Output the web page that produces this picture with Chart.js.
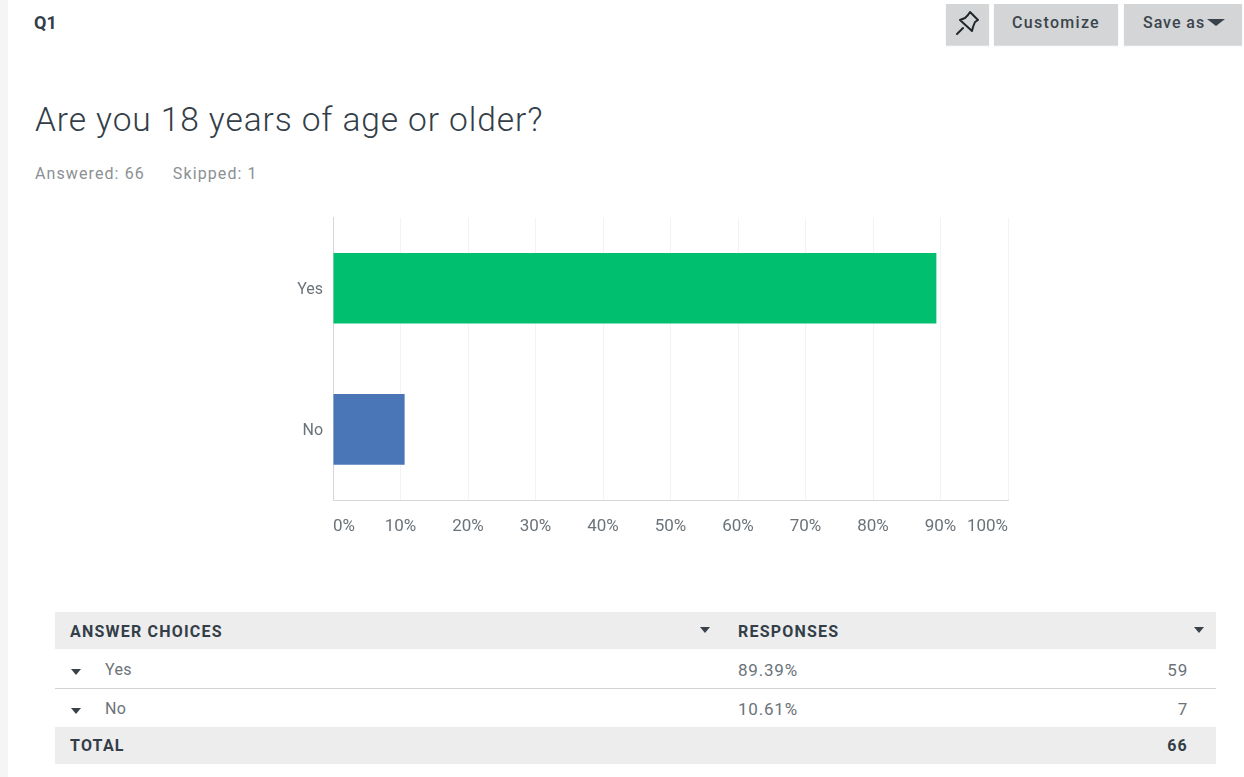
<!DOCTYPE html>
<html>
<head>
<meta charset="utf-8">
<title>Q1</title>
<script src="https://cdn.jsdelivr.net/npm/chart.js@4"></script>
<style>
  html, body { margin: 0; padding: 0; background: #fff; }
  body { width: 1244px; height: 777px; position: relative; overflow: hidden; font-family: Roboto, sans-serif; color: #333e48; }
  .abs { position: absolute; white-space: nowrap; }
  #edge { left: 0; top: 0; width: 8px; height: 777px; background: #f5f5f5; }
  #qnum { left: 34px; top: 12px; font: 700 18px/22px Roboto, sans-serif; color: #333e48; }
  #title { left: 35px; top: 98px; font: 300 33.5px/44px Roboto, sans-serif; color: #333e48; letter-spacing: .91px; }
  #stats { left: 35px; top: 164px; font: 400 16px/20px Roboto, sans-serif; color: #8b9094; letter-spacing: 1.1px; }
  #stats span + span { margin-left: 28px; }
  .btn { top: 4px; height: 41px; background: #d3d5d6; box-shadow: 0 1px 1px #dfe0e1; font: 500 16px/38px Roboto, sans-serif; color: #3c454d; text-align: center; letter-spacing: 1.3px; }
  #pin { left: 946px; width: 43px; }
  #custom { left: 994px; width: 124px; }
  #save { left: 1124px; width: 118px; text-align: left; text-indent: 19px; letter-spacing: .95px; }
  .tri { position: absolute; width: 0; height: 0; border-left: 5px solid transparent; border-right: 5px solid transparent; border-top: 6px solid #39424a; }
  #save .tri { left: 83px; top: 15px; border-left-width: 9px; border-right-width: 9px; border-top-width: 7px; }
  #chartBox { left: 270px; top: 198px; width: 760px; height: 347px; }
  .band { left: 55px; width: 1161px; background: #ededed; }
  .cell { font: 400 16px/20px Roboto, sans-serif; color: #6b7379; letter-spacing: .3px; }
  .num { font: 400 17px/20px Roboto, sans-serif; color: #6b7379; letter-spacing: .8px; }
  .head { font: 700 16px/20px Roboto, sans-serif; color: #333e48; letter-spacing: 1.2px; }
  #rule { left: 55px; top: 688px; width: 1161px; height: 1px; background: #d0d2d3; }
</style>
</head>
<body>
<div class="abs" id="edge"></div>
<div class="abs" id="qnum">Q1</div>
<div class="abs btn" id="pin">
  <svg width="43" height="41" viewBox="0 0 43 41" style="position:absolute;left:0;top:0">
    <g fill="none" stroke="#20262b" stroke-width="2" stroke-linejoin="round" stroke-linecap="round">
      <path d="M24 8 L32 16 L29 18 L27 23 L26 27 L14 16 L19 14 L22 11 Z"/>
      <path d="M17 24 L11 30"/>
    </g>
  </svg>
</div>
<div class="abs btn" id="custom">Customize</div>
<div class="abs btn" id="save">Save as<i class="tri"></i></div>
<div class="abs" id="title">Are you 18 years of age or older?</div>
<div class="abs" id="stats"><span id="answered"></span><span id="skipped"></span></div>

<div class="abs" id="chartBox"><canvas id="chart" width="760" height="347"></canvas></div>

<div class="abs band" style="top:612px;height:37px"></div>
<div class="abs band" style="top:727px;height:37px"></div>
<div class="abs" id="rule"></div>
<div id="table"></div>

<script>
// Survey results for the question
const choices = ['Yes', 'No'];
const percentages = [89.39, 10.61];
const responses = [59, 7];
const barColors = ['#00bf6f', '#4a76b8'];
const tickValues = [0, 10, 20, 30, 40, 50, 60, 70, 80, 90, 100];
const totalAnswered = 66;
const totalSkipped = 1;

document.getElementById('answered').textContent = 'Answered: ' + totalAnswered;
document.getElementById('skipped').textContent = 'Skipped: ' + totalSkipped;

// Results table below the chart
const table = document.getElementById('table');
function addText(text, x, y, cls, right) {
  const el = document.createElement('div');
  el.className = 'abs ' + cls;
  el.textContent = text;
  el.style.top = y + 'px';
  if (right) el.style.right = (1244 - x) + 'px'; else el.style.left = x + 'px';
  table.appendChild(el);
}
function addTriangle(x, y) {
  const el = document.createElement('i');
  el.className = 'tri';
  el.style.left = x + 'px';
  el.style.top = y + 'px';
  table.appendChild(el);
}
addText('ANSWER CHOICES', 70, 622, 'head');
addText('RESPONSES', 738, 622, 'head');
addTriangle(700, 627);
addTriangle(1194, 627);
const rowTops = [660, 699];
choices.forEach((c, i) => {
  addTriangle(71, rowTops[i] + 9);
  addText(c, 105, rowTops[i], 'cell');
  addText(percentages[i].toFixed(2) + '%', 738, rowTops[i], 'num');
  addText(String(responses[i]), 1188, rowTops[i], 'num', true);
});
addText('TOTAL', 70, 736, 'head');
addText(String(totalAnswered), 1188, 736, 'head', true);

// Horizontal bar chart of answer shares
new Chart(document.getElementById('chart'), {
  type: 'bar',
  data: {
    labels: choices,
    datasets: [{
      data: percentages,
      backgroundColor: barColors,
      borderWidth: 0,
      categoryPercentage: 1,
      barPercentage: 0.5
    }]
  },
  options: {
    indexAxis: 'y',
    responsive: false,
    animation: false,
    layout: { padding: { left: 0, right: 22, top: 0, bottom: 0 } },
    plugins: { legend: { display: false }, tooltip: { enabled: false } },
    scales: {
      x: {
        min: 0,
        max: 100,
        afterBuildTicks: axis => { axis.ticks = tickValues.map(v => ({ value: v })); },
        afterFit: axis => { axis.height = 45; },
        grid: { color: '#f3f3f3', drawTicks: false },
        border: { color: '#d6d6d6' },
        ticks: {
          align: 'inner',
          maxRotation: 0,
          autoSkip: false,
          padding: 17,
          color: '#6b7379',
          font: { family: 'Roboto', size: 17 },
          callback: v => v + '%'
        }
      },
      y: {
        afterFit: axis => { axis.width = 63; },
        grid: { display: false, drawTicks: false },
        border: { color: '#d6d6d6' },
        ticks: {
          padding: 10,
          labelOffset: 1.5,
          color: '#6b7379',
          font: { family: 'Roboto', size: 16 }
        }
      }
    }
  }
});
</script>
</body>
</html>
